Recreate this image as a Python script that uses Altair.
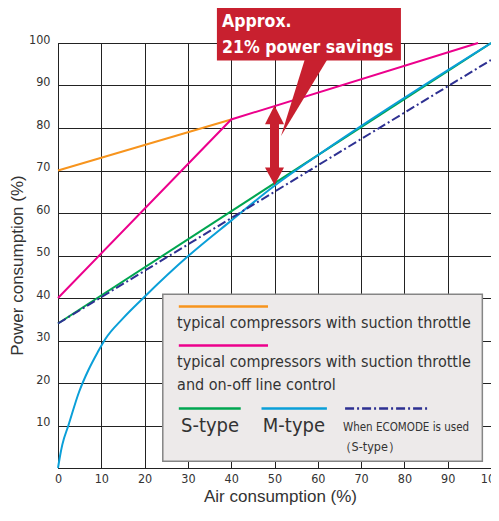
import altair as alt
import pandas as pd

COND = "DejaVu Sans Condensed, Liberation Sans, sans-serif"
REG = "Liberation Sans"
INK = "#333333"
GRID = "#222222"

# ---- data ----
ticks = list(range(0, 101, 10))

orange_x = [0, 40]
orange_y = [70, 82]
magenta_x = [0, 40, 97]
magenta_y = [40, 82, 100]
s_x = [0, 100]
s_y = [34, 100]
m_x = [0, 0.5, 1, 2.4, 4.9, 7, 9.2, 10.9, 15, 20, 30, 40, 50, 60, 100]
m_y = [0, 3, 5.5, 10, 18, 23, 27.3, 30.3, 35.2, 40.3, 49.8, 58.2, 66.4, 73.6, 100]
eco_x = [0, 100]
eco_y = [34, 96]

C_ORANGE = "#F7941D"
C_MAGENTA = "#EC008C"
C_GREEN = "#00A651"
C_BLUE = "#0A9FD8"
C_NAVY = "#2E3192"
C_RED = "#C8202F"

SC = alt.Scale(domain=[0, 100], nice=False, zero=False)


def X(f, axis=alt.Undefined):
    return alt.X(f, type="quantitative", scale=SC, axis=axis)


def Y(f, axis=alt.Undefined):
    return alt.Y(f, type="quantitative", scale=SC, axis=axis)


x_axis = alt.Axis(values=ticks, title="Air consumption (%)", titleX=222, titleY=33,
                  titleBaseline="alphabetic", titleAlign="center")
y_axis = alt.Axis(values=ticks, labelExpr="datum.value == 0 ? '' : datum.label",
                  title="Power consumption (%)", titleX=-41, titleY=222,
                  titleBaseline="middle", titleAlign="center")

# axis carrier layer (invisible points on the grid corners)
base = alt.Chart(pd.DataFrame({"x": [0, 100], "y": [0, 100]})).mark_point(opacity=0).encode(
    x=X("x", x_axis), y=Y("y", y_axis))


def line(xs, ys, color, dash=None, interp="monotone"):
    df = pd.DataFrame({"x": xs, "y": ys})
    kw = dict(color=color, strokeWidth=2, interpolate=interp)
    if dash:
        kw["strokeDash"] = dash
    return alt.Chart(df).mark_line(**kw).encode(x=X("x"), y=Y("y"))


L_orange = line(orange_x, orange_y, C_ORANGE)
L_magenta = line(magenta_x, magenta_y, C_MAGENTA, interp="linear")
L_green = line(s_x, s_y, C_GREEN)
L_blue = line(m_x, m_y, C_BLUE)
L_navy = line(eco_x, eco_y, C_NAVY, dash=[9, 3, 2, 3])

# ---- callout ----
callout_box = alt.Chart(pd.DataFrame({"x": [36.7], "x2": [79.2], "y": [95.9], "y2": [110]})).mark_rect(
    color=C_RED).encode(x=X("x"), x2="x2", y=Y("y"), y2="y2")


def tri(v, a, b):
    return alt.Chart(pd.DataFrame({"v": v, "a": a, "b": b})).mark_area(
        color=C_RED, orient="horizontal").encode(y=Y("v"), x=X("a"), x2="b")


tail = tri([78.1, 96.5], [51.5, 57.1], [51.5, 62.4])
head_up = tri([80.9, 85.3], [47.8, 50], [52.2, 50])
head_dn = tri([66.6, 70.7], [50, 47.8], [50, 52.2])
shaft = alt.Chart(pd.DataFrame({"x": [48.96], "x2": [51.04], "y": [70.5], "y2": [81.1]})).mark_rect(
    color=C_RED).encode(x=X("x"), x2="x2", y=Y("y"), y2="y2")

callout_text = alt.Chart(pd.DataFrame({"x": [37.9, 37.9], "y": [103.8, 97.7],
                                       "t": ["Approx.", "21% power savings"]})).mark_text(
    align="left", baseline="alphabetic", font=COND, fontSize=17.5, fontWeight="bold",
    color="white").encode(x=X("x"), y=Y("y"), text="t:N")

# ---- legend box ----
leg_box = alt.Chart(pd.DataFrame({"x": [24.2], "x2": [98.0], "y": [1.6], "y2": [40.9]})).mark_rect(
    fill="#EDEAEA", stroke="#858585", strokeWidth=1.5).encode(x=X("x"), x2="x2", y=Y("y"), y2="y2")


def seg(x1, x2, y, color, dash=None):
    kw = dict(color=color, strokeWidth=2.5)
    if dash:
        kw["strokeDash"] = dash
    return alt.Chart(pd.DataFrame({"x": [x1], "x2": [x2], "y": [y]})).mark_rule(**kw).encode(
        x=X("x"), x2="x2", y=Y("y"))


def txt(x, y, t, size, font=COND):
    return alt.Chart(pd.DataFrame({"x": [x], "y": [y], "t": [t]})).mark_text(
        align="left", baseline="alphabetic", font=font, fontSize=size, color=INK).encode(
        x=X("x"), y=Y("y"), text="t:N")


legend = [
    leg_box,
    seg(27.9, 48.5, 38.0, C_ORANGE),
    txt(27.5, 33.0, "typical compressors with suction throttle", 16),
    seg(27.9, 48.5, 28.8, C_MAGENTA),
    txt(27.5, 23.7, "typical compressors with suction throttle", 16),
    txt(27.5, 18.3, "and on-off line control", 16),
    seg(27.9, 42.2, 14.0, C_GREEN),
    seg(47.0, 62.1, 14.0, C_BLUE),
    seg(66.3, 85.5, 14.0, C_NAVY, dash=[9, 3, 2, 3]),
    txt(28.4, 8.5, "S-type", 20),
    txt(47.3, 8.5, "M-type", 20),
    txt(65.8, 8.7, "When ECOMODE is used", 11.5),
    txt(64.8, 4.1, "（S-type）", 12.5),
]

chart = alt.layer(
    base, L_orange, L_magenta, L_green, L_blue, L_navy,
    tail, callout_box, callout_text, shaft, head_up, head_dn, *legend
).properties(
    width=433, height=425,
    autosize=alt.AutoSizeParams(type="none"),
    padding={"left": 50, "top": 35, "right": 0, "bottom": 39},
).configure_view(
    stroke=GRID, strokeWidth=1
).configure_axis(
    grid=True, gridColor=GRID, gridWidth=1, ticks=False, domainColor=GRID,
    labelFont=COND, labelFontSize=12.5, labelColor=INK, labelFlush=False,
    titleFont=REG, titleFontSize=17, titleFontWeight="normal", titleColor=INK
).configure_axisX(
    labelPadding=4
).configure_axisY(
    labelPadding=8, labelBaseline="alphabetic"
)

chart.save("out.html", embed_options={"renderer": "svg", "actions": False})
